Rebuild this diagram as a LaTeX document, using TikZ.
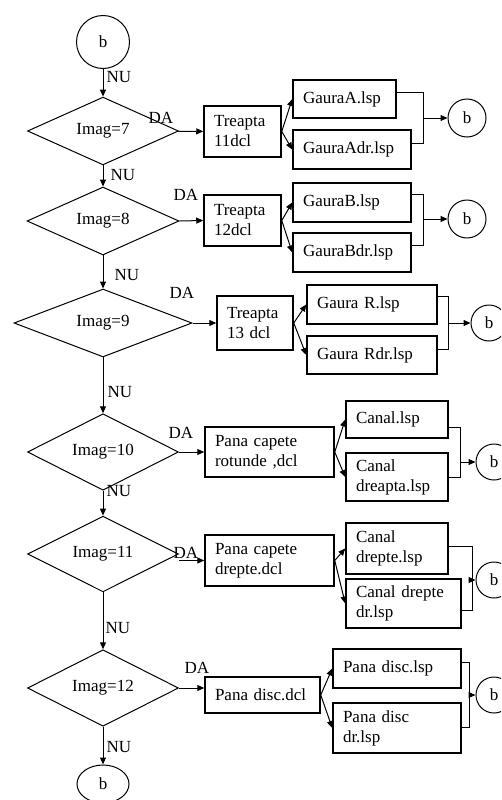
\documentclass[tikz,border=0pt]{standalone}
\usepackage{fontspec}
\setmainfont{Liberation Serif}
\usetikzlibrary{shapes.geometric,arrows.meta}
\begin{document}
\begin{tikzpicture}[x=1pt,y=-1pt,
  every node/.style={font=\fontsize{17}{20}\selectfont},
  box/.style={draw, line width=1.5pt, rectangle, inner xsep=10pt, inner ysep=0pt, align=left},
  dec/.style={draw, line width=1pt, diamond, inner sep=0pt, minimum height=50pt},
  conn/.style={draw, circle, line width=1pt, inner sep=0pt},
  arr/.style={line width=1pt, -{Triangle[length=7pt,width=6pt]}},
  ln/.style={line width=1pt},
  lbl/.style={inner sep=0pt}
]
\clip (0,0) rectangle (501,800);
\fill[white] (0,0) rectangle (501,800);

% main column
\node[conn, minimum size=53pt] (top) at (103,42) {b};
\node[dec, minimum width=151pt] (d7) at (103,131) {Imag=7};
\node[dec, minimum width=152pt] (d8) at (103,221) {Imag=8};
\node[dec, minimum width=178pt] (d9) at (103,323) {Imag=9};
\node[dec, minimum width=151pt] (d10) at (103,452) {Imag=10};
\node[dec, minimum width=151pt] (d11) at (103,554) {Imag=11};
\node[dec, minimum width=151pt] (d12) at (103,688) {Imag=12};
\node[draw, ellipse, line width=1pt, minimum width=52pt, minimum height=38pt, inner sep=0pt] (bot) at (103,784) {b};

\draw[arr] (top) -- (d7);
\draw[arr] (d7) -- (d8);
\draw[arr] (d8) -- (d9);
\draw[arr] (d9) -- (d10);
\draw[arr] (d10) -- (d11);
\draw[arr] (d11) -- (d12);
\draw[arr] (d12) -- (bot);

\node[lbl] (nu1) at (119,77) {NU};
\node[lbl] (nu2) at (123,175) {NU};
\node[lbl] (nu3) at (127,275) {NU};
\node[lbl] (nu4) at (120,392) {NU};
\node[lbl] (nu5) at (119,491) {NU};
\node[lbl] (nu6) at (118,628) {NU};
\node[lbl] (nu7) at (119,747) {NU};

\node[lbl] (da7) at (161,118) {DA};
\node[lbl] (da8) at (186,195) {DA};
\node[lbl] (da9) at (182,293) {DA};
\node[lbl] (da10) at (181,433) {DA};
\node[lbl] (da11) at (186,553) {DA};
\node[lbl] (da12) at (197,668) {DA};

% row 7
\node[box, text width=57pt, minimum height=51pt] (t7) at (242.5,131.5) {Treapta\\11dcl};
\node[box, text width=83pt, minimum height=38pt] (a1) at (344.5,99) {GauraA.lsp};
\node[box, text width=98pt, minimum height=39pt] (a2) at (352,149.5) {GauraAdr.lsp};
\node[conn, minimum size=38pt] (cA) at (467,118) {b};
\draw[arr] (d7) -- (t7);
\draw[arr] (t7.east) -- (a1.west);
\draw[arr] (t7.east) -- (a2.west);
\coordinate (ka1) at (423,92);
\coordinate (ka2) at (423,143);
\coordinate (kam) at (423,118);
\draw[ln] (a1.east |- ka1) -- (ka1) -- (ka2) -- (a2.east |- ka2);
\draw[arr] (kam) -- (cA);

% row 8
\node[box, text width=57pt, minimum height=51pt] (t8) at (242.5,220.5) {Treapta\\12dcl};
\node[box, text width=98pt, minimum height=39pt] (b1) at (352,202.5) {GauraB.lsp};
\node[box, text width=98pt, minimum height=39pt] (b2) at (352,252.5) {GauraBdr.lsp};
\node[conn, minimum size=38pt] (cB) at (467,219) {b};
\draw[arr] (d8.east) -- (t8.west);
\draw[arr] (t8.east) -- (b1.west);
\draw[arr] (t8.east) -- (b2.west);
\coordinate (kb1) at (423,194);
\coordinate (kb2) at (423,245);
\coordinate (kbm) at (423,219);
\draw[ln] (b1.east |- kb1) -- (kb1) -- (kb2) -- (b2.east |- kb2);
\draw[arr] (kbm) -- (cB);

% row 9
\node[box, text width=56pt, minimum height=54pt] (t9) at (255,323) {Treapta\\13 dcl};
\node[box, text width=110pt, minimum height=39pt] (r1) at (372,304.5) {Gaura R.lsp};
\node[box, text width=110pt, minimum height=38pt] (r2) at (372,355) {Gaura Rdr.lsp};
\node[conn, minimum size=36pt] (cR) at (489,323) {b};
\draw[arr] (d9) -- (t9);
\draw[arr] (t9.east) -- (r1.west);
\draw[arr] (t9.east) -- (r2.west);
\coordinate (kr1) at (448,296);
\coordinate (kr2) at (448,349);
\coordinate (krm) at (448,323);
\draw[ln] (r1.east |- kr1) -- (kr1) -- (kr2) -- (r2.east |- kr2);
\draw[arr] (krm) -- (cR);

% row 10
\node[box, text width=109pt, minimum height=50pt] (p10) at (269.5,452) {Pana capete\\rotunde ,dcl};
\node[box, text width=82pt, minimum height=37pt] (c1) at (397,419.5) {Canal.lsp};
\node[box, text width=82pt, minimum height=48pt] (c2) at (397,477) {Canal\\dreapta.lsp};
\node[conn, minimum size=36pt] (c10) at (494,462) {b};
\draw[arr] (d10) -- (p10);
\draw[arr] (p10.east) -- (c1.west);
\draw[arr] (p10.east) -- (c2.west);
\coordinate (kc1) at (460,427);
\coordinate (kc2) at (460,477);
\coordinate (kcm) at (460,462);
\draw[ln] (c1.east |- kc1) -- (kc1) -- (kc2) -- (c2.east |- kc2);
\draw[arr] (kcm) -- (c10);

% row 11
\node[box, text width=109pt, minimum height=51pt] (p11) at (269.5,560.5) {Pana capete\\drepte.dcl};
\node[box, text width=82pt, minimum height=51pt] (e1) at (397,548.5) {Canal\\drepte.lsp};
\node[box, text width=95pt, minimum height=49pt] (e2) at (403.5,603.5) {Canal drepte\\dr.lsp};
\node[conn, minimum size=36pt] (c11) at (494,580) {b};
\draw[arr] (d11.east |- p11.west) -- (p11.west);
\draw[arr] (p11.east) -- (e1.west);
\draw[arr] (p11.east) -- (e2.west);
\coordinate (kd1) at (472,546);
\coordinate (kd2) at (472,610);
\coordinate (kdm) at (472,580);
\draw[ln] (e1.east |- kd1) -- (kd1) -- (kd2) -- (e2.east |- kd2);
\draw[arr] (kdm) -- (c11);

% row 12
\node[box, text width=95pt, minimum height=36pt] (p12) at (262.5,695) {Pana disc.dcl};
\node[box, text width=108pt, minimum height=39pt] (f1) at (397,668.5) {Pana disc.lsp};
\node[box, text width=108pt, minimum height=50pt] (f2) at (397,728) {Pana disc\\dr.lsp};
\node[conn, minimum size=36pt] (c12) at (494,695) {b};
\draw[arr] (d12.east) -- (d12.east -| p12.west);
\draw[arr] (p12.east) -- (f1.west);
\draw[arr] (p12.east) -- (f2.west);
\coordinate (ke1) at (469,662);
\coordinate (ke2) at (469,727);
\coordinate (kem) at (469,695);
\draw[ln] (f1.east |- ke1) -- (ke1) -- (ke2) -- (f2.east |- ke2);
\draw[arr] (kem) -- (c12);
\end{tikzpicture}
\end{document}
